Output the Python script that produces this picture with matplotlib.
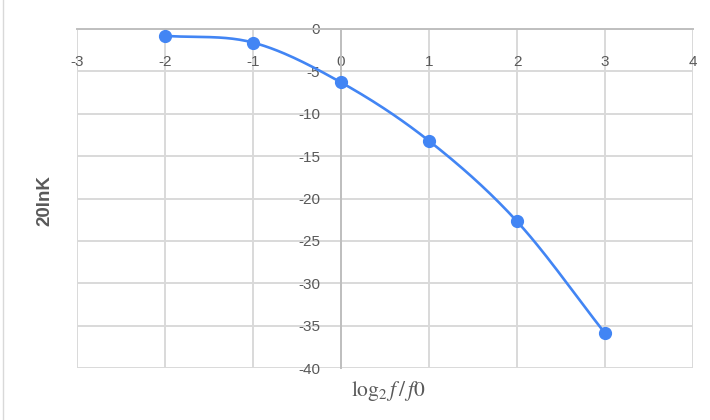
import numpy as np
import matplotlib
matplotlib.use('Agg')
import matplotlib.pyplot as plt
from matplotlib.lines import Line2D

# Data
log_ratio = [-2, -1, 0, 1, 2, 3]
gain_db = [-0.8, -1.6, -6.3, -13.2, -22.7, -35.9]

x_ticks = [-3, -2, -1, 0, 1, 2, 3, 4]
y_ticks = [0, -5, -10, -15, -20, -25, -30, -35, -40]

LINE_BLUE = '#4285f4'
GRID_GREY = '#d9d9d9'
AXIS_GREY = '#bfbfbf'
TEXT_GREY = '#595959'


def smooth_curve(x, y, steps=40):
    """ Catmull-Rom spline through the points, the way the sheet draws it """
    x = np.asarray(x, dtype=float)
    y = np.asarray(y, dtype=float)
    px = np.concatenate([[2 * x[0] - x[1]], x, [2 * x[-1] - x[-2]]])
    py = np.concatenate([[2 * y[0] - y[1]], y, [2 * y[-1] - y[-2]]])
    xs, ys = [], []
    t = np.linspace(0, 1, steps)
    for i in range(1, len(px) - 2):
        for p, out in ((px, xs), (py, ys)):
            p0, p1, p2, p3 = p[i - 1], p[i], p[i + 1], p[i + 2]
            out.append(0.5 * ((2 * p1) + (-p0 + p2) * t
                              + (2 * p0 - 5 * p1 + 4 * p2 - p3) * t ** 2
                              + (-p0 + 3 * p1 - 3 * p2 + p3) * t ** 3))
    return np.concatenate(xs), np.concatenate(ys)


plt.rcParams['font.family'] = ['Liberation Sans', 'DejaVu Sans']
plt.rcParams['mathtext.fontset'] = 'stix'
plt.rcParams['axes.unicode_minus'] = False

fig = plt.figure(figsize=(7.1, 4.2), dpi=100)
ax = fig.add_axes([77 / 710, 1 - 368 / 420, (693 - 77) / 710, (368 - 29) / 420])

ax.set_xlim(-3, 4)
ax.set_ylim(-40, 0)
ax.set_xticks(x_ticks)
ax.set_yticks(y_ticks)
ax.grid(True, color=GRID_GREY, linewidth=1.4)
ax.set_axisbelow(True)

# Axes cross at the origin, like the spreadsheet chart
ax.spines['left'].set_position(('data', 0))
ax.spines['top'].set_position(('data', 0))
ax.spines['bottom'].set_visible(False)
ax.spines['right'].set_visible(False)
for side in ('left', 'top'):
    ax.spines[side].set_color(AXIS_GREY)
    ax.spines[side].set_linewidth(1.4)
ax.xaxis.set_ticks_position('top')
ax.tick_params(axis='x', length=0, pad=-19, labelsize=11, labelcolor=TEXT_GREY)
ax.tick_params(axis='y', length=0, pad=15, labelsize=11, labelcolor=TEXT_GREY)
ax.xaxis.set_tick_params(labeltop=True, labelbottom=False)
for lbl in ax.get_xticklabels():
    lbl.set_verticalalignment('top')

sx, sy = smooth_curve(log_ratio, gain_db)
ax.plot(sx, sy, color=LINE_BLUE, linewidth=1.9, zorder=3)
ax.plot(log_ratio, gain_db, 'o', color=LINE_BLUE, markersize=8.5, zorder=4)

fig.text(45 / 710, 1 - 201 / 420, '20lnK', rotation=90, ha='center', va='center',
         fontsize=13.5, fontweight='bold', color=TEXT_GREY)
fig.text(388 / 710, 1 - 391 / 420, r'$\log_2 f\,/\,f0$', ha='center', va='center',
         fontsize=15.5, color=TEXT_GREY)

# faint sheet border on the far left
fig.add_artist(Line2D([3 / 710, 3 / 710], [0, 1], color='#d9d9d9', linewidth=1))

fig.savefig('out.png', dpi=100)
